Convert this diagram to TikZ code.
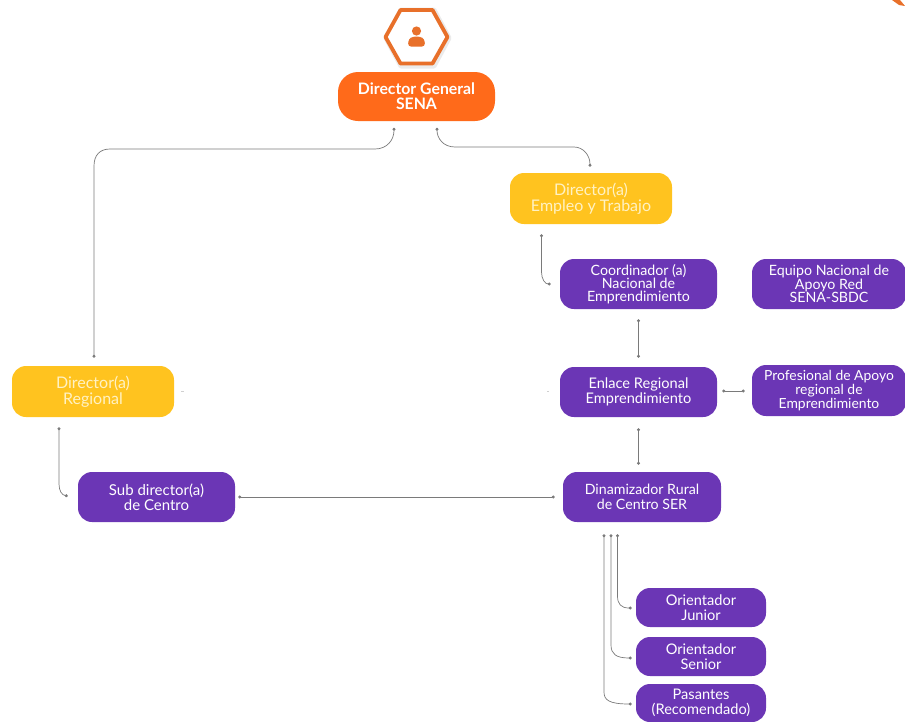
\documentclass[tikz,border=0pt]{standalone}
\usepackage{fontspec}
\setmainfont{Lato}
\usetikzlibrary{arrows.meta,calc}
\definecolor{orangeA}{HTML}{FF6A1A}
\definecolor{hexA}{HTML}{E8702A}
\definecolor{yellowA}{HTML}{FFC31F}
\definecolor{purpleA}{HTML}{6B36B5}
\definecolor{lineA}{HTML}{7A7A7A}
\definecolor{creamA}{HTML}{FFF2C4}
\tikzset{
  box/.style={rounded corners=14pt,inner sep=0pt,align=center,text=white,font=\fontsize{14.2}{12.5}\selectfont},
  purplebox/.style={box,fill=purpleA},
  yellowbox/.style={box,fill=yellowA,text=creamA,font=\fontsize{16}{15.5}\selectfont},
  orangebox/.style={box,fill=orangeA,rounded corners=20pt,font=\fontsize{15.8}{15}\selectfont\bfseries},
  wide/.style={font=\fontsize{14.6}{15}\selectfont},
  snug/.style={font=\fontsize{13.9}{12.5}\selectfont},
  link/.style={draw=lineA,line width=0.7pt,{Circle[length=3pt,width=3pt]}-{Circle[length=3pt,width=3pt]}},
  wh/.style 2 args={minimum width=#1pt,minimum height=#2pt},
  stub/.style={draw=lineA!35,line width=0.6pt}
}
\begin{document}
\begin{tikzpicture}[x=1pt,y=-1pt]
\useasboundingbox (0,0) rectangle (905,721);
% hexagon and person icon
\draw[draw=black!8,line width=5pt,line join=round] (386,38) -- (401,10) -- (434,10) -- (449,38) -- (434,66) -- (401,66) -- cycle;
\draw[draw=hexA,line width=3.8pt,line join=round,fill=white] (385.5,37) -- (400.5,10) -- (432.5,10) -- (447.5,37) -- (432.5,63.5) -- (400.5,63.5) -- cycle;
\fill[hexA] (416.5,31) circle (4.6);
\fill[hexA,rounded corners=3pt] (408,46.5) -- (408.5,39) -- (413,36.5) -- (420,36.5) -- (424.5,39) -- (425,46.5) -- cycle;
% corner fragment
\fill[hexA] (892,0) -- (900,0) -- (905,6) -- (899,5) -- cycle;
% nodes
\node[orangebox,wh={157}{49}] (general) at (416.5,96.5) {Director General\\SENA};
\node[yellowbox,wh={162}{51}] (empleo) at (591,198.5) {Director(a)\\Empleo y Trabajo};
\node[yellowbox,wh={162}{51}] (regional) at (93,391.5) {Director(a)\\Regional};
\node[purplebox,wh={157}{50}] (coord) at (638.5,284) {Coordinador (a)\\Nacional de\\Emprendimiento};
\node[purplebox,wh={154}{50}] (equipo) at (829,284) {Equipo Nacional de\\Apoyo Red\\SENA-SBDC};
\node[purplebox,wide,wh={157}{50}] (enlace) at (638.5,392) {Enlace Regional\\Emprendimiento};
\node[purplebox,snug,wh={154}{51}] (prof) at (829,390.5) {Profesional de Apoyo\\regional de\\Emprendimiento};
\node[purplebox,font=\fontsize{14.2}{15}\selectfont,wh={158}{50}] (dinam) at (642,497) {Dinamizador Rural\\de Centro SER};
\node[purplebox,font=\fontsize{15}{15}\selectfont,wh={157}{50}] (sub) at (156.5,497) {Sub director(a)\\de Centro};
\node[purplebox,wide,wh={130}{39}] (junior) at (701,607.5) {Orientador\\Junior};
\node[purplebox,wide,wh={130}{39}] (senior) at (701,656.5) {Orientador\\Senior};
\node[purplebox,wide,wh={130}{38}] (pasantes) at (701,703) {Pasantes\\(Recomendado)};
% free ends of the connectors
\coordinate (gL) at ($(general.south)+(-22.5,6.5)$);
\coordinate (gR) at ($(general.south)+(20.5,6.5)$);
\coordinate (eT) at ($(empleo.north)+(-1,-6)$);
\coordinate (rT) at ($(regional.north)+(1,-8)$);
\coordinate (eB) at ($(empleo.south)+(-49.5,10)$);
\coordinate (cL) at ($(coord.west)+(-9,0)$);
\coordinate (cB) at ($(coord.south)+(0,10)$);
\coordinate (nT) at ($(enlace.north)+(0,-9)$);
\coordinate (nB) at ($(enlace.south)+(0,11)$);
\coordinate (dT) at ($(dinam.north)+(-3.5,-7)$);
\coordinate (nR) at ($(enlace.east)+(5,-1)$);
\coordinate (pL) at ($(prof.west)+(-7,0.5)$);
\coordinate (sR) at ($(sub.east)+(3,0)$);
\coordinate (dL) at ($(dinam.west)+(-8,0)$);
\coordinate (rB) at ($(regional.south)+(-34,10)$);
\coordinate (sL) at ($(sub.west)+(-10,-1)$);
\coordinate (d1) at ($(dinam.south)+(-38,12)$);
\coordinate (d2) at ($(dinam.south)+(-31,12)$);
\coordinate (d3) at ($(dinam.south)+(-24.5,12)$);
\coordinate (jL) at ($(junior.west)+(-4,0.5)$);
\coordinate (tL) at ($(senior.west)+(-4,1.5)$);
\coordinate (aL) at ($(pasantes.west)+(-4,1)$);
% connectors
\draw[link] (rT) -- (94,166) .. controls (94,155) and (100,149) .. (110,149) -- (375,149) .. controls (387,149) and (394,140) .. (gL);
\draw[link] (gR) .. controls (437,138) and (443,147) .. (455,147) -- (574,147) .. controls (583,147) and (590,155) .. (eT);
\draw[link] (eB) -- (541.5,272) .. controls (541.5,279) and (545,284) .. (cL);
\draw[link] (cB) -- (nT);
\draw[link] (nB) -- (dT -| nB);
\draw[link] (nR) -- (pL);
\draw[link] (sR) -- (dL);
\draw[link] (rB) -- (59,484) .. controls (59,491) and (62,495) .. (sL);
\draw[link] (d3) -- (617.5,596) .. controls (617.5,604) and (621,608) .. (jL);
\draw[link] (d2) -- (611,645) .. controls (611,654) and (616,658) .. (tL);
\draw[link] (d1) -- (604,692) .. controls (604,700) and (609,704) .. (aL);
% faint stubs
\draw[stub] (181,391) -- (184,391);
\draw[stub] (547,391) -- (549,391);
\end{tikzpicture}
\end{document}
